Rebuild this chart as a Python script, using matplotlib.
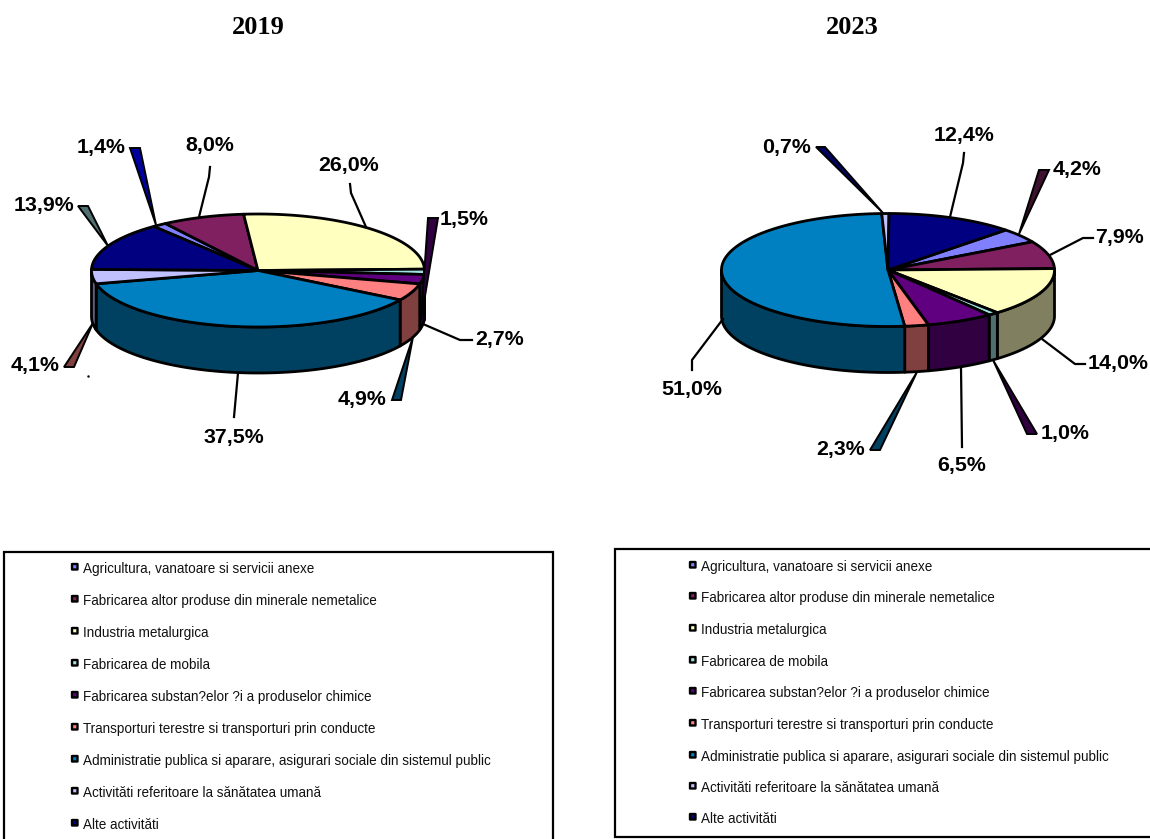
import numpy as np
import matplotlib
matplotlib.use("Agg")
import matplotlib.pyplot as plt
from matplotlib.patches import Polygon, Rectangle

categories = [
    "Agricultura, vanatoare si servicii anexe",
    "Fabricarea altor produse din minerale nemetalice",
    "Industria metalurgica",
    "Fabricarea de mobila",
    "Fabricarea substan?elor ?i a produselor chimice",
    "Transporturi terestre si transporturi prin conducte",
    "Administratie publica si aparare, asigurari sociale din sistemul public",
    "Activităti referitoare la sănătatea umană",
    "Alte activităti",
]
values_2019 = [1.4, 8.0, 26.0, 1.5, 2.7, 4.9, 37.5, 4.1, 13.9]
values_2023 = [4.2, 7.9, 14.0, 1.0, 6.5, 2.3, 51.0, 0.7, 12.4]

top_colors = ["#8080FF", "#802060", "#FFFFC0", "#A0E0E0", "#600080",
              "#FF8080", "#0080C0", "#C0C0FF", "#000080"]
side_colors = ["#404080", "#401030", "#808060", "#507070", "#300040",
               "#804040", "#004060", "#606080", "#000040"]

# pie geometry in pixels
RX = 166.5
RY = 56.5
DEPTH = 46

# leader: points from the pie outwards, fill colour, label centre
leaders_2019 = [
    ([(156, 225), (130, 148), (140, 148)], "#0000A0", (101, 148)),
    ([(199, 217), (209, 177), (210, 167)], None, (210, 146)),
    ([(366, 227), (351, 193), (350, 184)], None, (349, 166)),
    ([(421, 320), (428, 218), (438, 218)], "#300040", (464, 220)),
    ([(423, 324), (460, 340), (472, 340)], None, (500, 340)),
    ([(413, 337), (392, 400), (401, 400)], "#004060", (362, 399)),
    ([(238, 373), (234, 417)], None, (234, 437)),
    ([(93, 323), (64, 367), (74, 367)], "#804040", (35, 366)),
    ([(108, 246), (78, 206), (88, 206)], "#507070", (44, 205)),
]
leaders_2023 = [
    ([(1019, 234), (1039, 170), (1049, 170)], "#401030", (1077, 170)),
    ([(1050, 255), (1083, 238), (1093, 238)], None, (1120, 238)),
    ([(1042, 339), (1075, 364), (1085, 364)], None, (1118, 363)),
    ([(993, 360), (1027, 434), (1037, 434)], "#300040", (1065, 433)),
    ([(961, 367), (962, 447)], None, (962, 466)),
    ([(917, 372), (870, 450), (880, 450)], "#004060", (841, 450)),
    ([(723, 319), (692, 360), (692, 370)], None, (692, 390)),
    ([(883, 213), (816, 147), (825, 147)], "#000060", (787, 147)),
    ([(950, 217), (963, 163), (964, 153)], None, (964, 135)),
]


def ellipse_points(cx, cy, start, end):
    t = np.radians(np.linspace(start, end, max(int(abs(end - start)) * 2, 2)))
    return np.column_stack([cx + RX * np.sin(t), cy - RY * np.cos(t)])


def draw_pie(ax, cx, cy, values, start_angle):
    edges = start_angle + np.cumsum([0] + values) * 3.6

    # walls first, only the part facing the viewer
    for turn in [0, 360]:
        for i in range(len(values)):
            a = max(edges[i], 90 + turn)
            b = min(edges[i + 1], 270 + turn)
            if b <= a:
                continue
            arc = ellipse_points(cx, cy, a, b)
            wall = np.vstack([arc, arc[::-1] + [0, DEPTH]])
            ax.add_patch(Polygon(wall, closed=True, facecolor=side_colors[i],
                                 edgecolor="black", linewidth=2,
                                 joinstyle="round"))

    for i in range(len(values)):
        arc = ellipse_points(cx, cy, edges[i], edges[i + 1])
        wedge = np.vstack([[cx, cy], arc])
        ax.add_patch(Polygon(wedge, closed=True, facecolor=top_colors[i],
                             edgecolor="black", linewidth=2,
                             joinstyle="round"))


def draw_labels(ax, values, leaders):
    for value, (points, fill, center) in zip(values, leaders):
        if fill is None:
            ax.plot(*zip(*points), color="black", linewidth=1.6, zorder=3)
        else:
            ax.add_patch(Polygon(points, closed=True, facecolor=fill,
                                 edgecolor="black", linewidth=1.4, zorder=3))
        text = f"{value:.1f}%".replace(".", ",")
        ax.text(center[0], center[1], text, ha="center", va="center",
                family="Liberation Sans", fontweight="bold", fontsize=15.4)


def draw_legend(ax, box, marker_x, rows):
    ax.add_patch(Rectangle((box[0], box[1]), box[2], box[3], facecolor="white",
                           edgecolor="black", linewidth=1.6, clip_on=True))
    for name, color, y in zip(categories, top_colors, rows):
        ax.add_patch(Rectangle((marker_x - 3, y - 4), 5.5, 5.5, facecolor=color,
                               edgecolor="black", linewidth=1.7,
                               joinstyle="round", snap=False))
        ax.text(marker_x + 8, y + 1, name, ha="left", va="center",
                family="Liberation Sans", fontsize=9.72, color="#111111")


fig = plt.figure(figsize=(11.5, 8.39), dpi=100)
ax = fig.add_axes([0, 0, 1, 1])
ax.set_xlim(0, 1150)
ax.set_ylim(839, 0)
ax.axis("off")

ax.text(258, 27, "2019", ha="center", va="center", family="Liberation Serif",
        fontweight="bold", fontsize=19)
ax.text(852, 27, "2023", ha="center", va="center", family="Liberation Serif",
        fontweight="bold", fontsize=19)

draw_pie(ax, 258, 270.5, values_2019, -38.8)
draw_pie(ax, 888, 270, values_2023, 45)
draw_labels(ax, values_2019, leaders_2019)
draw_labels(ax, values_2023, leaders_2023)
ax.plot([88], [376], marker=".", markersize=1.5, color="black")

rows_left = [568, 600, 632, 664, 696, 728, 760, 792, 824]
rows_right = [566, 597, 629, 661, 692, 724, 756, 787, 818]
draw_legend(ax, (4, 552, 549, 300), 75, rows_left)
draw_legend(ax, (615, 549, 545, 288), 693, rows_right)

fig.savefig("out.png", dpi=100, facecolor="white")
